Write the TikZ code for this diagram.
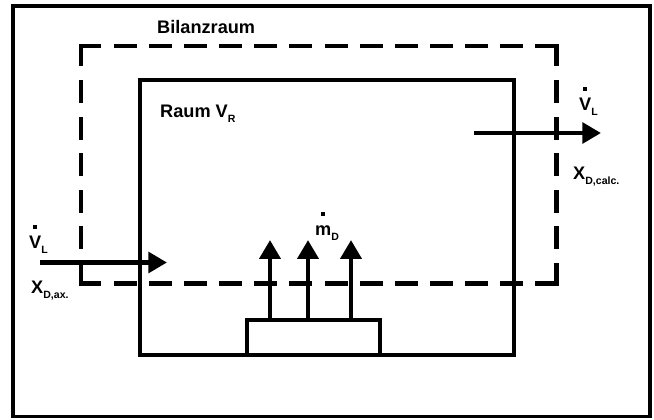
\documentclass[tikz,border=0pt]{standalone}
\usepackage{fontspec}
\setmainfont{Liberation Sans}
\usetikzlibrary{arrows.meta,positioning}
\newcommand{\punkt}[1]{\leavevmode\ooalign{#1\cr\hidewidth\raisebox{16.5pt}{\rule{3.3pt}{3.3pt}}\hidewidth\cr}}
\newcommand{\idx}[1]{\raisebox{-4.8pt}{\fontsize{9}{10}\selectfont #1}}

\begin{document}
\begin{tikzpicture}[
  x=0.03cm, y=-0.03cm,
  every node/.style={font=\bfseries\fontsize{15.5}{18}\selectfont, inner sep=0pt},
  lbl/.style    ={anchor=base west},
  frame/.style  ={draw, line width=3.4pt},
  wall/.style   ={draw, line width=3.4pt, anchor=center},
  bilanzh/.style={line width=4.25pt, line cap=rect, dash pattern=on 15.36pt off 14.64pt},
  bilanzv/.style={line width=4.25pt, line cap=rect, dash pattern=on 15.36pt off 15.86pt},
  flow/.style   ={-{Triangle[length=16pt,width=17.5pt]}, line width=4.25pt}]

\useasboundingbox (0,0) rectangle (654,419);

% outer frame
\draw[frame] (13,6) rectangle (650,416.5);

% room and source at its floor
\node[wall, minimum width=11.22cm, minimum height=8.25cm] (raum) at (327,217.5) {};
\node[wall, minimum width=3.99cm, minimum height=1.05cm] (quelle) at (313.5,337.5) {};

% balance boundary, each side with dashes at both corners
\coordinate (b1) at (81,46);
\coordinate (b2) at (556,46);
\coordinate (b3) at (556,283.5);
\coordinate (b4) at (81,283.5);
\draw[bilanzh] (b1) -- (b2);
\draw[bilanzh] (b4) -- (b3);
\draw[bilanzv] (b1) -- (b4);
\draw[bilanzv] (b2) -- (b3);

% mass flow out of the source
\coordinate (m1) at (270,240);
\coordinate (m2) at (308,240);
\coordinate (m3) at (351,240);
\foreach \m in {m1,m2,m3}
  \draw[flow] (\m |- quelle.north) -- (\m);

% air in and out
\coordinate (ein1) at (40,262.5);
\coordinate (ein2) at (167,262.5);
\coordinate (aus1) at (474,133);
\coordinate (aus2) at (601,133);
\draw[flow] (ein1) -- (ein2);
\draw[flow] (aus1) -- (aus2);

% labels
\node[lbl] (tbilanz) at (157,33)  {Bilanzraum};
\node[lbl] (traum)   at (160,117) {Raum V\idx{R}};
\node[lbl] (tmd)     at (315,235) {\punkt{m}\idx{D}};
\node[lbl] (tvein)   at (29,248)  {\punkt{V}\idx{L}};
\node[lbl] (txein)   at (31,293)  {X\idx{D,ax.}};
\node[lbl] (tvaus)   at (579,110) {\punkt{V}\idx{L}};
\node[lbl] (txaus)   at (573,179) {X\idx{D,calc.}};

\end{tikzpicture}
\end{document}
